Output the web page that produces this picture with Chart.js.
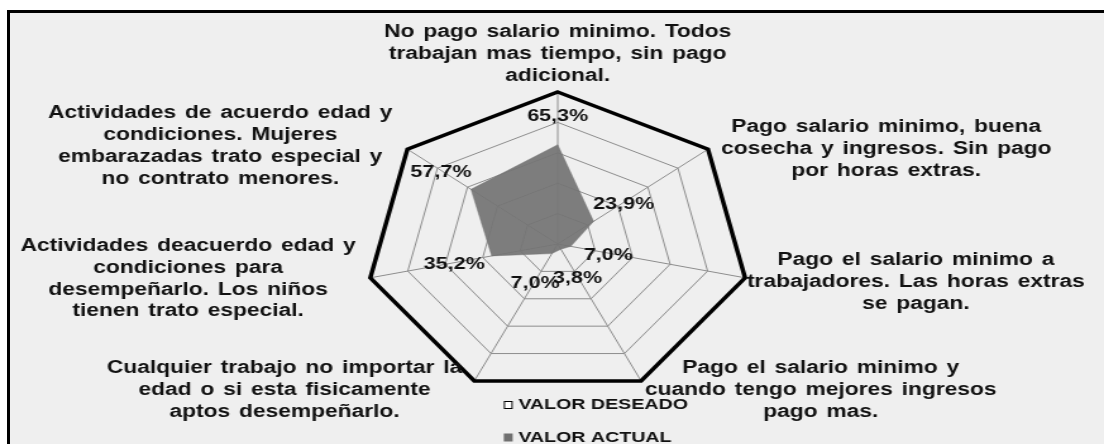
<!DOCTYPE html>
<html><head><meta charset="utf-8">
<script src="https://cdn.jsdelivr.net/npm/chart.js@4"></script>
<style>
html,body{margin:0;padding:0;background:#fff;width:1104px;height:444px;overflow:hidden;}
#frame{position:absolute;left:7px;top:10px;width:1200px;height:500px;border-left:3px solid #000;border-top:3px solid #000;background:#efefef;}
#c{position:absolute;left:0;top:0;}
</style></head><body>
<div id="frame"></div>
<canvas id="c" width="873" height="444" style="width:1104px;height:444px;"></canvas>
<script>
const categories = [
  ['No pago salario minimo. Todos', 'trabajan mas tiempo, sin pago', 'adicional.'],
  ['Pago salario minimo, buena', 'cosecha y ingresos. Sin pago', 'por horas extras.'],
  ['Pago el salario minimo a', 'trabajadores. Las horas extras', 'se pagan.'],
  ['Pago el salario minimo y', 'cuando tengo mejores ingresos', 'pago mas.'],
  ['Cualquier trabajo no importar la', 'edad o si esta fisicamente', 'aptos desempeñarlo.'],
  ['Actividades deacuerdo edad y', 'condiciones para', 'desempeñarlo. Los niños', 'tienen trato especial.'],
  ['Actividades de acuerdo edad y', 'condiciones. Mujeres', 'embarazadas trato especial y', 'no contrato menores.']
];
const seriesNames = ['VALOR DESEADO', 'VALOR ACTUAL'];
const valorDeseado = [100, 100, 100, 100, 100, 100, 100];
const valorActual = [65.3, 23.9, 7.0, 3.8, 7.0, 35.2, 57.7];
const scaleTicks = [0, 20, 40, 60, 80, 100];

// presentation (offsets of category label blocks from outer vertices, px)
const labelOffsets = [[0, -38], [141, 0], [135, 4], [142, 9], [-150, 9], [-144, 1], [-148, -3]];
const FONT = '"Liberation Sans", Arial, sans-serif';
const GRAY = 'rgba(116,116,116,0.93)';

const annot = {
  id: 'annot',
  afterDatasetsDraw(chart) {
    const ctx = chart.ctx, r = chart.scales.r;
    ctx.save();
    ctx.fillStyle = '#111';
    ctx.textAlign = 'center';
    ctx.textBaseline = 'middle';
    ctx.font = 'bold 18px ' + FONT;
    if ('wordSpacing' in ctx) ctx.wordSpacing = '2px';
    const lh = 21.8;
    chart.data.labels.forEach((lines, i) => {
      const p = r.getPointPositionForValue(i, r.max);
      const cx = p.x + labelOffsets[i][0], cy = p.y + labelOffsets[i][1];
      lines.forEach((t, k) => ctx.fillText(t, cx, cy + (k - (lines.length - 1) / 2) * lh));
    });
    if ('wordSpacing' in ctx) ctx.wordSpacing = '0px';
    ctx.font = 'bold 17px ' + FONT;
    chart.data.datasets[1].data.forEach((v, i) => {
      const p = r.getPointPositionForValue(i, v + 20);
      ctx.fillText(v.toFixed(1).replace('.', ',') + '%', p.x, p.y + 2);
    });
    // legend
    const lx = r.xCenter - 42.6;
    const ys = [chart.chartArea.bottom + 8, chart.chartArea.bottom + 40.5];
    ctx.font = 'bold 15.5px ' + FONT;
    ctx.textAlign = 'left';
    chart.data.datasets.forEach((ds, i) => {
      const y = ys[i];
      if (i === 0) {
        ctx.fillStyle = '#fff';
        ctx.fillRect(lx, y - 4, 7, 8);
        ctx.strokeStyle = '#000';
        ctx.lineWidth = 1;
        ctx.strokeRect(lx + 0.5, y - 3.5, 6, 7);
      } else {
        ctx.fillStyle = '#707070';
        ctx.fillRect(lx, y - 4, 7, 8);
      }
      ctx.fillStyle = '#111';
      ctx.fillText(ds.label, lx + 11.5, y);
    });
    ctx.restore();
  }
};

new Chart(document.getElementById('c'), {
  type: 'radar',
  data: {
    labels: categories,
    datasets: [
      { label: seriesNames[0], data: valorDeseado, borderColor: '#000', borderWidth: 3.5,
        backgroundColor: '#fff', fill: false, pointRadius: 0, tension: 0 },
      { label: seriesNames[1], data: valorActual, borderColor: GRAY, borderWidth: 0.5,
        backgroundColor: GRAY, fill: true, pointRadius: 0, tension: 0 }
    ]
  },
  options: {
    responsive: false,
    animation: false,
    devicePixelRatio: 1,
    layout: { padding: { left: 289, right: 279, top: 92, bottom: 47 } },
    plugins: { legend: { display: false }, tooltip: { enabled: false } },
    scales: {
      r: {
        min: 0, max: 100,
        afterBuildTicks: s => { s.ticks = scaleTicks.map(v => ({ value: v })); },
        ticks: { display: false },
        grid: { color: '#8c8c8c', lineWidth: 1 },
        angleLines: { color: '#8c8c8c', lineWidth: 1 },
        pointLabels: { display: false }
      }
    }
  },
  plugins: [annot]
});
</script>
</body></html>
